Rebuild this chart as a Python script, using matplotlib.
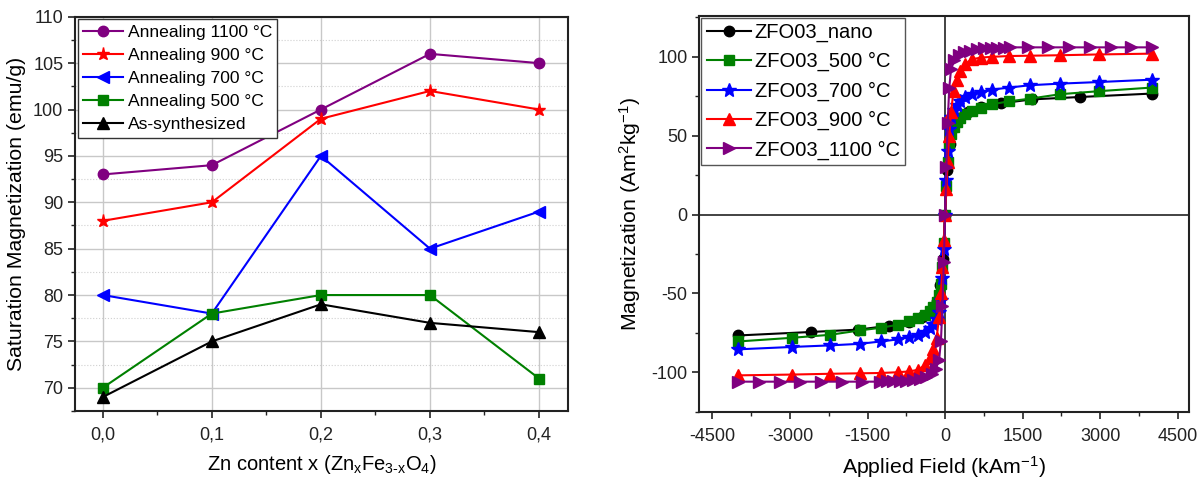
import matplotlib
matplotlib.use("Agg")
import matplotlib.pyplot as plt
from matplotlib.ticker import MultipleLocator, FuncFormatter

plt.rcParams["font.family"] = ["Liberation Sans", "DejaVu Sans"]
plt.rcParams["mathtext.fontset"] = "custom"
plt.rcParams["mathtext.rm"] = "Liberation Sans"
plt.rcParams["mathtext.it"] = "Liberation Sans"
plt.rcParams["axes.unicode_minus"] = False

# ---- left panel: saturation magnetization vs Zn content ----
zn_x = [0.0, 0.1, 0.2, 0.3, 0.4]
ms_1100 = [93, 94, 100, 106, 105]
ms_900 = [88, 90, 99, 102, 100]
ms_700 = [80, 78, 95, 85, 89]
ms_500 = [70, 78, 80, 80, 71]
ms_as = [69, 75, 79, 77, 76]

# ---- right panel: hysteresis loops (applied field kA/m, magnetization Am2/kg) ----
h_nano = [-4000, -2600, -1680, -1080, -690, -450, -260, -150, -90, -45, 0,
          45, 90, 150, 260, 450, 690, 1080, 1680, 2600, 4000]
m_nano = [-76.7, -74.5, -73.0, -70.5, -68.0, -65.3, -61.0, -55.0, -45.0, -28.0, 0.0,
          28.0, 45.0, 55.0, 61.0, 65.3, 68.0, 70.5, 73.0, 74.5, 76.7]

h_grid = [-4000, -2970, -2230, -1650, -1240, -910, -690, -515, -385, -290, -230,
          -165, -115, -80, -50, -25, 0, 25, 50, 80, 115, 165, 230, 290, 385, 515,
          690, 910, 1240, 1650, 2230, 2970, 4000]
m_500 = [-80.5, -78.2, -76.3, -73.5, -71.8, -69.9, -67.8, -65.7, -64.0, -61.5, -58.7,
         -55.5, -51.0, -44.0, -33.0, -18.0, 0.0, 18.0, 33.0, 44.0, 51.0, 55.5, 58.7,
         61.5, 64.0, 65.7, 67.8, 69.9, 71.8, 73.5, 76.3, 78.2, 80.5]
m_700 = [-85.5, -84.0, -83.0, -82.0, -80.5, -79.2, -77.7, -76.3, -74.6, -72.0, -69.3,
         -66.0, -62.0, -54.0, -40.0, -22.0, 0.0, 22.0, 40.0, 54.0, 62.0, 66.0, 69.3,
         72.0, 74.6, 76.3, 77.7, 79.2, 80.5, 82.0, 83.0, 84.0, 85.5]
m_900 = [-102.0, -101.5, -101.0, -100.7, -100.5, -100.0, -99.5, -98.4, -95.3, -91.0, -85.0,
         -78.6, -65.0, -50.0, -33.0, -16.0, 0.0, 16.0, 33.0, 50.0, 65.0, 78.6, 85.0,
         91.0, 95.3, 98.4, 99.5, 100.0, 100.5, 100.7, 101.0, 101.5, 102.0]

h_1100 = [-4000, -3600, -3200, -2800, -2400, -2000, -1600, -1260, -1130, -1000, -880,
          -750, -620, -490, -360, -260, -180, -115, -80, -50, -25, 0, 25, 50, 80, 115,
          180, 260, 360, 490, 620, 750, 880, 1000, 1130, 1260, 1600, 2000, 2400, 2800,
          3200, 3600, 4000]
m_1100 = [-106.0, -106.0, -106.0, -106.0, -106.0, -106.0, -106.0, -106.0, -105.8, -105.7,
          -105.5, -105.3, -105.0, -104.0, -103.0, -101.0, -98.0, -92.0, -80.0, -58.0, -30.0,
          0.0, 30.0, 58.0, 80.0, 92.0, 98.0, 101.0, 103.0, 104.0, 105.0, 105.3, 105.5,
          105.7, 105.8, 106.0, 106.0, 106.0, 106.0, 106.0, 106.0, 106.0, 106.0]

PURPLE = "#800080"
GREEN = "#008000"

fig = plt.figure(figsize=(12.01, 4.79), dpi=100)
ax1 = fig.add_axes([0.0625, 0.142, 0.4102, 0.823])
ax2 = fig.add_axes([0.5824, 0.139, 0.4073, 0.828])

# left panel
ax1.plot(zn_x, ms_1100, color=PURPLE, marker="o", ms=7.5, lw=1.5, label="Annealing 1100 °C")
ax1.plot(zn_x, ms_900, color="red", marker="*", ms=9.5, lw=1.5, label="Annealing 900 °C")
ax1.plot(zn_x, ms_700, color="blue", marker="<", ms=8, lw=1.5, label="Annealing 700 °C")
ax1.plot(zn_x, ms_500, color=GREEN, marker="s", ms=6.5, lw=1.5, label="Annealing 500 °C")
ax1.plot(zn_x, ms_as, color="black", marker="^", ms=8, lw=1.5, label="As-synthesized")

ax1.set_xlim(-0.0254, 0.4263)
ax1.set_ylim(67.5, 110)
ax1.xaxis.set_major_locator(MultipleLocator(0.1))
ax1.xaxis.set_minor_locator(MultipleLocator(0.05))
ax1.yaxis.set_major_locator(MultipleLocator(5))
ax1.yaxis.set_minor_locator(MultipleLocator(2.5))
ax1.xaxis.set_major_formatter(FuncFormatter(lambda v, p: f"{v:.1f}".replace(".", ",")))
ax1.grid(True, which="major", color="#c8c8c8", lw=1.0)
ax1.grid(True, which="minor", axis="y", color="#d0d0d0", lw=0.8, ls=":")
ax1.set_axisbelow(True)
ax1.set_xlabel("Zn content x (Zn$_x$Fe$_{3\u2010x}$O$_4$)", fontsize=14.5, labelpad=7)
ax1.set_ylabel("Saturation Magnetization (emu/g)", fontsize=15.3, labelpad=5)
leg1 = ax1.legend(loc="upper left", fontsize=12.6, frameon=True, fancybox=False,
                  borderaxespad=0.15, labelspacing=0.45, handlelength=2.3,
                  handletextpad=0.25, borderpad=0.3, framealpha=1)
leg1.get_frame().set_edgecolor("#333333")
leg1.get_frame().set_linewidth(1.0)

# right panel
ax2.axhline(0, color="#222222", lw=1.2, zorder=1)
ax2.axvline(0, color="#222222", lw=1.2, zorder=1)
ax2.plot(h_nano, m_nano, color="black", marker="o", ms=7.5, lw=1.5, label="ZFO03_nano")
ax2.plot(h_grid, m_500, color=GREEN, marker="s", ms=7, lw=1.5, label="ZFO03_500 °C")
ax2.plot(h_grid, m_700, color="blue", marker="*", ms=10, lw=1.5, label="ZFO03_700 °C")
ax2.plot(h_grid, m_900, color="red", marker="^", ms=8.5, lw=1.5, label="ZFO03_900 °C")
ax2.plot(h_1100, m_1100, color=PURPLE, marker=">", ms=8.5, lw=1.5, label="ZFO03_1100 °C")

ax2.set_xlim(-4750, 4710)
ax2.set_ylim(-125.5, 126)
ax2.xaxis.set_major_locator(MultipleLocator(1500))
ax2.xaxis.set_minor_locator(MultipleLocator(750))
ax2.yaxis.set_major_locator(MultipleLocator(50))
ax2.yaxis.set_minor_locator(MultipleLocator(25))
ax2.set_xlabel("Applied Field (kAm$^{-1}$)", fontsize=15.3, labelpad=7)
ax2.set_ylabel("Magnetization (Am$^{2}$kg$^{-1}$)", fontsize=15.3, labelpad=6)
leg2 = ax2.legend(loc="upper left", fontsize=14.5, frameon=True, fancybox=False,
                  borderaxespad=0.1, labelspacing=0.5, handlelength=2.2,
                  handletextpad=0.2, borderpad=0.25, framealpha=1)
leg2.get_frame().set_edgecolor("#555555")
leg2.get_frame().set_linewidth(1.0)

for ax in (ax1, ax2):
    for s in ax.spines.values():
        s.set_linewidth(1.5)
        s.set_color("#222222")
    ax.tick_params(which="major", direction="out", length=5, width=1.2, labelsize=13, colors="#222222")
    ax.tick_params(which="minor", direction="out", length=3, width=1.0, colors="#222222")
    ax.tick_params(axis="x", pad=6)

fig.savefig("out.png", dpi=100)
